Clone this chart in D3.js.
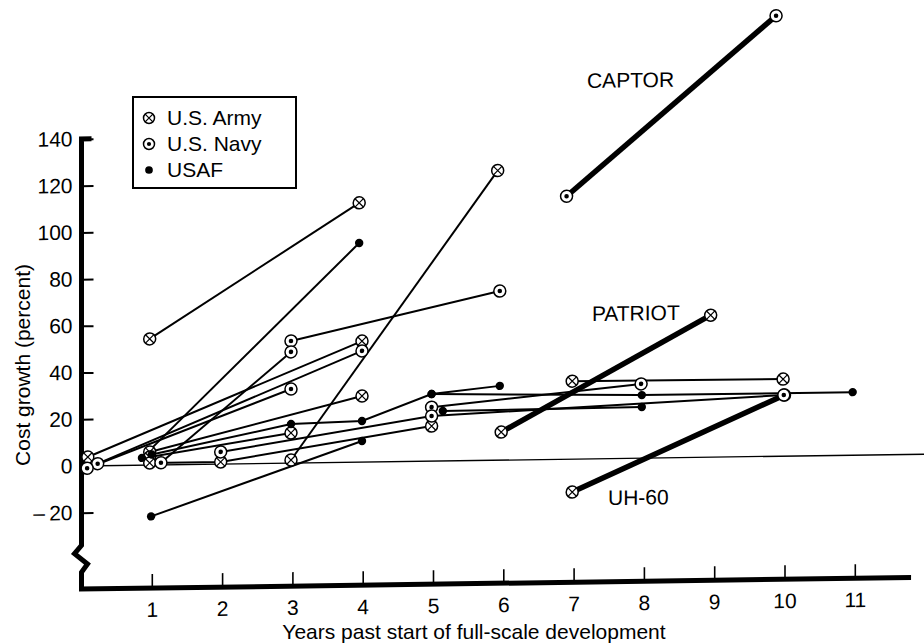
<!DOCTYPE html>
<html>
<head>
<style>
  body { margin: 0; background: #fff; }
  svg text { font-family: "Liberation Sans", Arial, sans-serif; fill: #000; }
</style>
</head>
<body>
<svg width="924" height="644"></svg>
<script src="https://d3js.org/d3.v7.min.js"></script>
<script>
// each program is a list of [years past start, cost growth %] estimates
var armyPrograms = [
  [[0.97, 54], [3.95, 111]],
  [[2.98, 1.3], [5.92, 124]],
  [[0.09, 3.8], [3.99, 51.8]],
  [[0.97, 5.6], [3.99, 28.3]],
  [[0.97, 3.4], [2.98, 12.9]],
  [[0.97, 0.9], [1.98, 0.9], [4.98, 15.0]],
  [[6.98, 33.4], [9.98, 33.0]]
];
var navyPrograms = [
  [[2.98, 52.3], [5.95, 72.4]],
  [[1.13, 0.9], [2.98, 47.6]],
  [[0.23, 0.9], [3.99, 47.6]],
  [[0.08, -1], [2.98, 31.7]],
  [[4.98, 23.1], [7.96, 31.8]],
  [[1.98, 5.2], [4.98, 19.3], [9.99, 26.2]]
];
var usafPrograms = [
  [[0.86, 3.1], [3.95, 93.8]],
  [[1.0, 4.5], [2.98, 16.7], [3.99, 17.6], [4.98, 28.7], [5.95, 31.8]],
  [[0.99, -22], [3.99, 9.0]],
  [[5.14, 21.4], [7.97, 21.9]],
  [[4.98, 28.7], [7.97, 27.0], [10.97, 27.0]]
];

// programs called out by name (heavy lines)
var namedPrograms = ["CAPTOR", "PATRIOT", "UH-60"];
var namedService = ["navy", "army", "army"];
var namedPoints = [
  [[6.9, 112.6], [9.88, 188.6]],
  [[5.97, 12.0], [8.95, 60.8]],
  [[6.98, -14.1], [10.0, 26.2]]
];
var namedLabelAt = [[7.19, 158.8], [7.26, 59.0], [7.49, -19.9]];

var xTicks = [1, 2, 3, 4, 5, 6, 7, 8, 9, 10, 11];
var yTicks = [-20, 0, 20, 40, 60, 80, 100, 120, 140];
var legendLabels = ["U.S. Army", "U.S. Navy", "USAF"];
var legendService = ["army", "navy", "usaf"];

var svg = d3.select("svg");

var x = d3.scaleLinear().domain([0, 11]).range([81.5, 854.8]);
var y = d3.scaleLinear().domain([0, 140]).range([466, 139]);

// the printed page is slightly skewed
var g = svg.append("g")
  .attr("transform", "translate(81,0) skewY(-0.8) translate(-81,0)");

function drawMarker(sel, service, r) {
  if (service == "usaf") {
    sel.append("circle").attr("r", r * 0.7).attr("fill", "#000");
    return;
  }
  sel.append("circle").attr("r", r).attr("fill", "#fff")
    .attr("stroke", "#000").attr("stroke-width", 1.5);
  if (service == "navy") {
    sel.append("circle").attr("r", r * 0.38).attr("fill", "#000");
  } else {
    var k = r * 0.7;
    sel.append("path")
      .attr("d", "M" + (-k) + "," + (-k) + "L" + k + "," + k + "M" + (-k) + "," + k + "L" + k + "," + (-k))
      .attr("stroke", "#000").attr("stroke-width", 1.2);
  }
}

// zero line
g.append("line")
  .attr("x1", x(0)).attr("x2", x(12.1))
  .attr("y1", y(0)).attr("y2", y(0))
  .attr("stroke", "#000").attr("stroke-width", 1.3);

// y axis
var yAxis = g.append("g")
  .attr("transform", "translate(" + x(0) + ",0)")
  .call(d3.axisLeft(y).tickValues(yTicks).tickSize(-12).tickPadding(9)
    .tickFormat(function (d) { return d < 0 ? "\u2013\u2009" + Math.abs(d) : d; }));
yAxis.select(".domain").remove();
yAxis.selectAll(".tick line").attr("stroke-width", 2);
yAxis.selectAll("text").style("font-size", "21px");

var xAxisAt = -52.7;
g.append("path")
  .attr("d", d3.line()([
    [x(0) + 10, y(140)], [x(0), y(140)], [x(0), y(-34)], [x(0) - 7, y(-37.5)],
    [x(0) + 6, y(-42)], [x(0), y(-45.5)], [x(0), y(xAxisAt)]
  ]))
  .attr("fill", "none").attr("stroke", "#000").attr("stroke-width", 5)
  .attr("stroke-linejoin", "miter");

// x axis
var xAxis = g.append("g")
  .attr("transform", "translate(0," + y(xAxisAt) + ")")
  .call(d3.axisBottom(x).tickValues(xTicks).tickSize(-14).tickPadding(14));
xAxis.select(".domain").remove();
xAxis.selectAll(".tick line").attr("stroke-width", 1.6);
xAxis.selectAll("text").style("font-size", "21px");
g.append("line")
  .attr("x1", x(0) - 2.5).attr("x2", x(11.8))
  .attr("y1", y(xAxisAt)).attr("y2", y(xAxisAt))
  .attr("stroke", "#000").attr("stroke-width", 5);

// axis titles
svg.append("text")
  .attr("x", 474).attr("y", 639)
  .attr("text-anchor", "middle")
  .style("font-size", "21px")
  .text("Years past start of full-scale development");
svg.append("text")
  .attr("transform", "translate(30,365) rotate(-90)")
  .attr("text-anchor", "middle")
  .style("font-size", "21px")
  .text("Cost growth (percent)");

var line = d3.line().x(function (d) { return x(d[0]); }).y(function (d) { return y(d[1]); });

var all = [];
armyPrograms.forEach(function (p) { all.push({ pts: p, service: "army", heavy: false }); });
navyPrograms.forEach(function (p) { all.push({ pts: p, service: "navy", heavy: false }); });
usafPrograms.forEach(function (p) { all.push({ pts: p, service: "usaf", heavy: false }); });
namedPoints.forEach(function (p, i) { all.push({ pts: p, service: namedService[i], heavy: true }); });

g.selectAll("path.prog").data(all).enter().append("path")
  .attr("class", "prog")
  .attr("d", function (d) { return line(d.pts); })
  .attr("fill", "none").attr("stroke", "#000")
  .attr("stroke-width", function (d) { return d.heavy ? 5.5 : 2; });

// markers: army first, then usaf, navy on top
["army", "usaf", "navy"].forEach(function (s) {
  all.filter(function (d) { return d.service == s; }).forEach(function (d) {
    d.pts.forEach(function (p) {
      var m = g.append("g").attr("transform", "translate(" + x(p[0]) + "," + y(p[1]) + ")");
      drawMarker(m, s, 6);
    });
  });
});

// program names
g.selectAll("text.name").data(namedPrograms).enter().append("text")
  .attr("class", "name")
  .attr("x", function (d, i) { return x(namedLabelAt[i][0]); })
  .attr("y", function (d, i) { return y(namedLabelAt[i][1]); })
  .style("font-size", "21px")
  .text(function (d) { return d; });

// legend
var legend = svg.append("g");
legend.append("rect")
  .attr("x", 133).attr("y", 97).attr("width", 163).attr("height", 91)
  .attr("fill", "#fff").attr("stroke", "#000").attr("stroke-width", 2);
legendLabels.forEach(function (label, i) {
  var row = legend.append("g").attr("transform", "translate(0," + (i * 26) + ")");
  var m = row.append("g").attr("transform", "translate(149,118)");
  drawMarker(m, legendService[i], 5.5);
  row.append("text").attr("x", 167).attr("y", 125)
    .style("font-size", "21px").text(label);
});
</script>
</body>
</html>
